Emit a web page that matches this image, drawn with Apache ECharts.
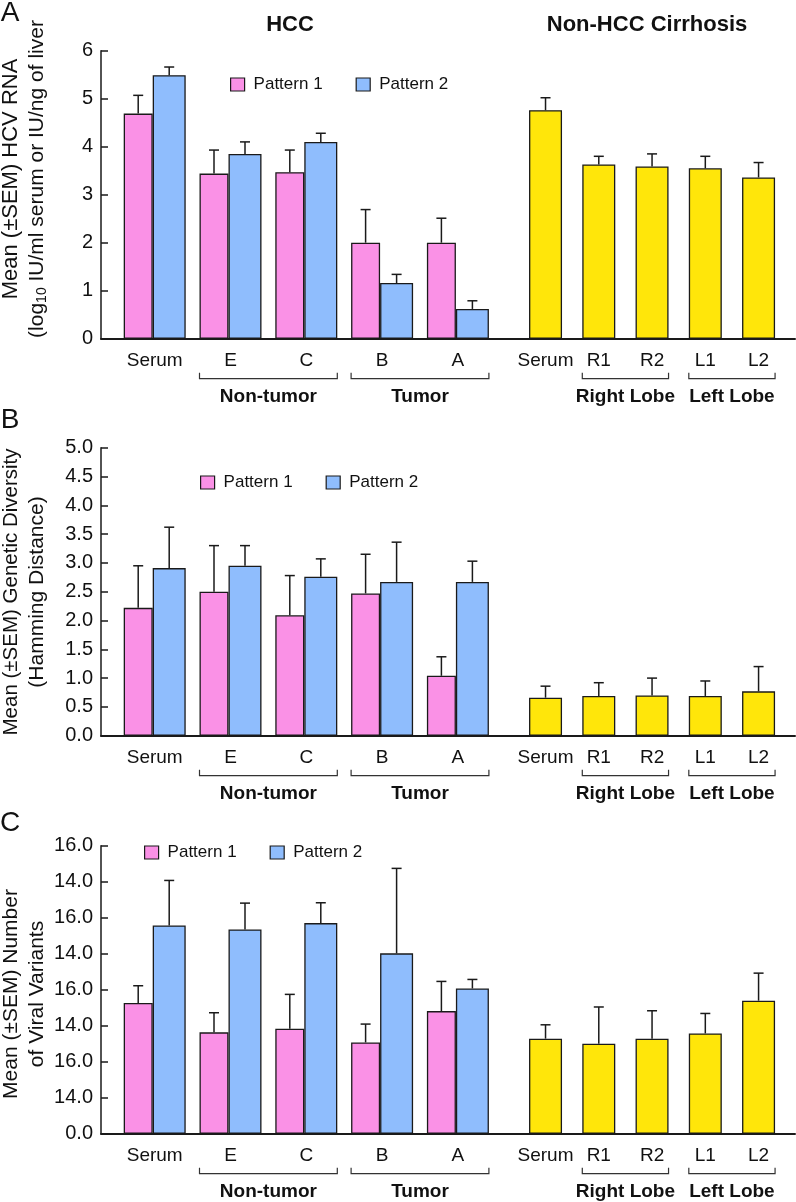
<!DOCTYPE html>
<html>
<head>
<meta charset="utf-8">
<script src="https://cdn.jsdelivr.net/npm/echarts@6/dist/echarts.min.js"></script>
<style>
  html, body { margin: 0; padding: 0; background: #fff; }
  #main { width: 796px; height: 1202px; }
</style>
</head>
<body>
<div id="main"></div>
<script>
// categories
var hccCats = ['Serum', 'E', 'C', 'B', 'A'];
var cirrCats = ['Serum', 'R1', 'R2', 'L1', 'L2'];

// A - HCV RNA (log10)
var rnaP1 = [4.69, 3.44, 3.47, 2.00, 2.00];
var rnaP1Sem = [0.38, 0.49, 0.46, 0.69, 0.51];
var rnaP2 = [5.49, 3.85, 4.10, 1.16, 0.62];
var rnaP2Sem = [0.17, 0.25, 0.18, 0.18, 0.17];
var rnaCirr = [4.76, 3.63, 3.59, 3.55, 3.36];
var rnaCirrSem = [0.26, 0.17, 0.26, 0.25, 0.31];
var rnaTicks = ['0', '1', '2', '3', '4', '5', '6'];

// B - genetic diversity (hamming distance)
var divP1 = [2.22, 2.50, 2.09, 2.47, 1.04];
var divP1Sem = [0.73, 0.80, 0.69, 0.68, 0.33];
var divP2 = [2.91, 2.95, 2.76, 2.67, 2.67];
var divP2Sem = [0.71, 0.35, 0.31, 0.69, 0.36];
var divCirr = [0.66, 0.69, 0.70, 0.69, 0.77];
var divCirrSem = [0.20, 0.23, 0.30, 0.26, 0.43];
var divTicks = ['0.0', '0.5', '1.0', '1.5', '2.0', '2.5', '3.0', '3.5', '4.0', '4.5', '5.0'];

// C - number of viral variants
var varP1 = [7.26, 5.63, 5.83, 5.07, 6.81];
var varP1Sem = [0.96, 1.09, 1.91, 1.02, 1.65];
var varP2 = [11.57, 11.35, 11.70, 10.02, 8.07];
var varP2Sem = [2.50, 1.46, 1.13, 4.72, 0.50];
var varCirr = [5.28, 5.00, 5.28, 5.57, 7.39];
var varCirrSem = [0.77, 2.04, 1.55, 1.11, 1.53];
var varTicks = ['0.0', '14.0', '16.0', '14.0', '16.0', '14.0', '16.0', '14.0', '16.0'];

var FONT = '"Liberation Sans", Arial, Helvetica, sans-serif';
var INK = '#1a1a1a';
var PINK = '#fa91e6', BLUE = '#8fbdfd', YELLOW = '#ffe60a';
var H = 288;

var panels = [
  { letter: 'A', top: 50.7, max: 6, step: 1, ticks: rnaTicks,
    p1: rnaP1, p1Sem: rnaP1Sem, p2: rnaP2, p2Sem: rnaP2Sem, ci: rnaCirr, ciSem: rnaCirrSem,
    name1: 'Mean (±SEM) HCV RNA', name2: '(log{s|10} IU/ml serum or IU/ng of liver', nameY: 179,
    nameSize: 22, legend: [230, 86], letterY: 13 },
  { letter: 'B', top: 447.7, max: 5, step: 0.5, ticks: divTicks,
    p1: divP1, p1Sem: divP1Sem, p2: divP2, p2Sem: divP2Sem, ci: divCirr, ciSem: divCirrSem,
    name1: 'Mean (±SEM) Genetic Diversity', name2: '(Hamming Distance)', nameY: 592,
    nameSize: 20.5, legend: [200, 484], letterY: 420 },
  { letter: 'C', top: 845.7, max: 16, step: 2, ticks: varTicks,
    p1: varP1, p1Sem: varP1Sem, p2: varP2, p2Sem: varP2Sem, ci: varCirr, ciSem: varCirrSem,
    name1: 'Mean (±SEM) Number', name2: 'of Viral Variants', nameY: 994,
    nameSize: 21, legend: [144, 854], letterY: 823 }
];

function catAxis(g, cats) {
  return {
    gridIndex: g, type: 'category', data: cats,
    axisLine: { show: false }, axisTick: { show: false },
    axisLabel: { interval: 0, margin: 13, fontSize: 19, color: '#111', fontFamily: FONT }
  };
}
function hiddenY(g, max) {
  return { gridIndex: g, type: 'value', min: 0, max: max, show: false, splitLine: { show: false } };
}
function errItem(offset) {
  return function (params, api) {
    var base = api.coord([api.value(0), api.value(1)]);
    var top = api.coord([api.value(0), api.value(2)]);
    var x = base[0] + offset;
    var st = { stroke: INK, lineWidth: 1.5 };
    return {
      type: 'group',
      children: [
        { type: 'line', shape: { x1: x, y1: base[1], x2: x, y2: top[1] }, style: st },
        { type: 'line', shape: { x1: x - 5, y1: top[1], x2: x + 5, y2: top[1] }, style: st }
      ]
    };
  };
}
function errData(vals, sem) {
  return vals.map(function (v, i) { return [i, v, +(v + sem[i]).toFixed(2)]; });
}
var barStyle = function (c) { return { color: c, borderColor: INK, borderWidth: 1.3 }; };

var grid = [], xAxis = [], yAxis = [], series = [], legend = [];
panels.forEach(function (p, k) {
  var f = 3 * k;
  grid.push({ left: 101, top: p.top, width: 694, height: H, outerBoundsMode: 'none' });
  grid.push({ left: 116.8, top: p.top, width: 379, height: H, outerBoundsMode: 'none' });
  grid.push({ left: 518.9, top: p.top, width: 266.3, height: H, outerBoundsMode: 'none' });

  xAxis.push({
    gridIndex: f, type: 'value', min: 0, max: 1,
    axisLine: { show: true, lineStyle: { color: INK, width: 2 } },
    axisTick: { show: false }, axisLabel: { show: false }, splitLine: { show: false }
  });
  xAxis.push(catAxis(f + 1, hccCats));
  xAxis.push(catAxis(f + 2, cirrCats));

  yAxis.push({
    gridIndex: f, type: 'value', min: 0, max: p.max, interval: p.step,
    axisLine: { show: true, lineStyle: { color: INK, width: 1.5 } },
    axisTick: { show: true, inside: true, length: 7, lineStyle: { color: INK, width: 1.5 } },
    axisLabel: {
      margin: 8, fontSize: 20, color: '#111', fontFamily: FONT,
      formatter: function (v) { return p.ticks[Math.round(v / p.step)]; }
    },
    splitLine: { show: false }
  });
  yAxis.push(hiddenY(f + 1, p.max));
  yAxis.push(hiddenY(f + 2, p.max));

  series.push({ name: 'Pattern 1', type: 'bar', xAxisIndex: f + 1, yAxisIndex: f + 1,
    data: p.p1, barWidth: 29, itemStyle: barStyle(PINK) });
  series.push({ name: 'Pattern 2', type: 'bar', xAxisIndex: f + 1, yAxisIndex: f + 1,
    data: p.p2, barWidth: 33, barGap: '0%', itemStyle: barStyle(BLUE) });
  series.push({ type: 'custom', xAxisIndex: f + 1, yAxisIndex: f + 1, z: 3,
    renderItem: errItem(-16.5), encode: { x: 0, y: [1, 2] }, data: errData(p.p1, p.p1Sem) });
  series.push({ type: 'custom', xAxisIndex: f + 1, yAxisIndex: f + 1, z: 3,
    renderItem: errItem(14.5), encode: { x: 0, y: [1, 2] }, data: errData(p.p2, p.p2Sem) });
  series.push({ name: 'Cirrhosis', type: 'bar', xAxisIndex: f + 2, yAxisIndex: f + 2,
    data: p.ci, barWidth: 33, itemStyle: barStyle(YELLOW) });
  series.push({ type: 'custom', xAxisIndex: f + 2, yAxisIndex: f + 2, z: 3,
    renderItem: errItem(0), encode: { x: 0, y: [1, 2] }, data: errData(p.ci, p.ciSem) });

  legend.push({
    left: p.legend[0], top: p.legend[1] - 10, orient: 'horizontal', padding: 0,
    data: ['Pattern 1', 'Pattern 2'], selectedMode: false,
    icon: 'rect', itemWidth: 14, itemHeight: 13, itemGap: 33,
    itemStyle: { borderColor: INK, borderWidth: 1.2 },
    textStyle: { fontSize: 17, color: '#111', fontFamily: FONT, padding: [0, 0, 0, 4] }
  });
});

var chart = echarts.init(document.getElementById('main'));
chart.setOption({
  animation: false,
  backgroundColor: '#fff',
  grid: grid, xAxis: xAxis, yAxis: yAxis, series: series, legend: legend
});

// brackets, titles, letters, axis names
var gfx = [];
function txt(x, y, s, size, bold, extra) {
  var o = { type: 'text', x: x, y: y, silent: true,
    style: { text: s, fontSize: size, fontWeight: bold ? 'bold' : 'normal', fontFamily: FONT,
      fill: '#111', textAlign: 'center', textVerticalAlign: 'middle' } };
  if (extra) { for (var key in extra) o[key] = extra[key]; }
  return o;
}
function bracket(axisIdx, fromCat, toCat, half, y, label) {
  var x1 = chart.convertToPixel({ xAxisIndex: axisIdx }, fromCat) - half;
  var x2 = chart.convertToPixel({ xAxisIndex: axisIdx }, toCat) + half;
  gfx.push({ type: 'polyline', silent: true,
    shape: { points: [[x1, y - 6], [x1, y], [x2, y], [x2, y - 6]] },
    style: { stroke: '#333', lineWidth: 1.2, fill: null } });
  gfx.push(txt((x1 + x2) / 2, y + 18, label, 19, true));
}

panels.forEach(function (p, k) {
  var f = 3 * k;
  var yb = p.top + H + 40;
  bracket(f + 1, 1, 2, 31, yb, 'Non-tumor');
  bracket(f + 1, 3, 4, 31, yb, 'Tumor');
  bracket(f + 2, 1, 2, 16.5, yb, 'Right Lobe');
  bracket(f + 2, 3, 4, 16.5, yb, 'Left Lobe');
  gfx.push(txt(10, p.letterY, p.letter, 28, false));
  gfx.push(txt(11, p.nameY, p.name1, p.nameSize, false, { rotation: Math.PI / 2 }));
  var n2 = txt(37, p.nameY, p.name2, 21, false, { rotation: Math.PI / 2 });
  n2.style.rich = { s: { fontSize: 14, fontFamily: FONT, fill: '#111', padding: [10, 0, 0, 0] } };
  gfx.push(n2);
});
gfx.push(txt(290, 25, 'HCC', 22, true));
gfx.push(txt(647, 25, 'Non-HCC Cirrhosis', 22, true));

chart.setOption({ graphic: gfx });
</script>
</body>
</html>
